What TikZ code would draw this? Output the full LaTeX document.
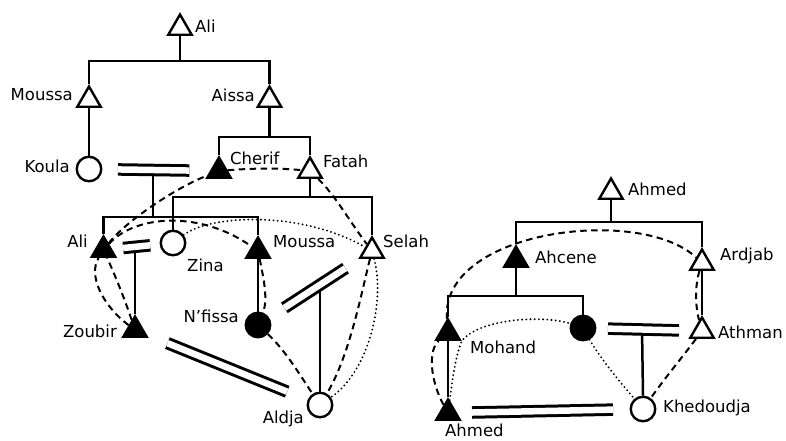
\documentclass[tikz,border=0pt]{standalone}
\usepackage{fontspec}
\setmainfont{DejaVu Sans}
\usetikzlibrary{shapes.geometric}
\tikzset{male/.style={regular polygon,regular polygon sides=3,draw,line width=2.4pt,
                      inner sep=0pt,minimum size=27pt},
         female/.style={circle,draw,line width=2.4pt,inner sep=0pt,minimum size=24.5pt},
         hollow/.style={fill=white},
         filled/.style={fill=black},
         who/.style={inner sep=0pt,font=\fontsize{16.5}{19}\selectfont},
         kin/.style={draw,line width=2.5pt},
         couple/.style={draw,double,line width=3pt,double distance=6.5pt},
         dashline/.style={draw,line width=2pt,dash pattern=on 6.5pt off 4.5pt},
         dotline/.style={draw,line width=2.1pt,line cap=round,dash pattern=on 0pt off 4.2pt}}

\begin{document}
\begin{tikzpicture}[x=1pt,y=-1pt]
\useasboundingbox (0,0) rectangle (786,441);
% left family
\node [male,hollow] (aliT) at (180,28) {};
\node [male,hollow] (moussaA) at (89,100) {};
\node [male,hollow] (aissa) at (269.5,100) {};
\node [female,hollow] (koula) at (89,169) {};
\node [male,filled] (cherif) at (219,171) {};
\node [male,hollow] (fatah) at (310,171) {};
\node [male,filled] (aliB) at (103.5,250) {};
\node [female,hollow] (zina) at (173,243) {};
\node [male,filled] (moussaB) at (258,251) {};
\node [male,hollow] (selah) at (372,251) {};
\node [female,filled] (nfissa) at (258,325) {};
\node [male,filled] (zoubir) at (135,330) {};
\node [female,hollow] (aldja) at (320,405) {};
\node [who,anchor=base west] (aliTl) at (195,33) {Ali};
\node [who,anchor=base east] (moussaAl) at (73,101) {Moussa};
\node [who,anchor=base east] (aissal) at (255,102) {Aissa};
\node [who,anchor=base east] (koulal) at (70,172) {Koula};
\node [who,anchor=base west] (cherifl) at (230,164) {Cherif};
\node [who,anchor=base west] (fatahl) at (323,167) {Fatah};
\node [who,anchor=base east] (aliBl) at (88,247) {Ali};
\node [who,anchor=base west] (zinal) at (187,271) {Zina};
\node [who,anchor=base west] (moussaBl) at (273,247) {Moussa};
\node [who,anchor=base west] (selahl) at (383,247) {Selah};
\node [who,anchor=base east] (nfissal) at (239,322) {N'fissa};
\node [who,anchor=base east] (zoubirl) at (117,337) {Zoubir};
\node [who,anchor=base east] (aldjal) at (304,423) {Aldja};
\coordinate (sibA) at (180,61);
\coordinate (sibB) at (269.5,137);
\coordinate (sibC) at (310,197);
\coordinate (kc) at (153,168);
\coordinate (sibD) at (153,217);
\coordinate (az) at (135,246);
\coordinate (sn) at (320,286);
\draw [kin] (aliT.south) -- (sibA);
\draw [kin] (moussaA.north) |- (sibA) -| (aissa.north);
\draw [kin] (aissa.south) -- (sibB);
\draw [kin] (cherif.north) |- (sibB) -| (fatah.north);
\draw [kin] (fatah.south) -- (sibC);
\draw [kin] (zina.north) |- (sibC) -| (selah.north);
\draw [kin] (moussaA.south) -- (koula.north);
\draw [kin] (kc) -- (sibD);
\draw [kin] (aliB.north) |- (sibD) -| (moussaB.north);
\draw [kin] (moussaB.south) -- (nfissa.north);
\draw [kin] (az) -- (zoubir.north);
\draw [kin] (sn) -- (aldja.north);
\draw [couple,shorten <=15.5pt,shorten >=20.5pt] (koula) -- (cherif);
\draw [couple,shorten <=11pt,shorten >=9.5pt] (aliB) -- (zina);
\draw [couple,shorten <=18pt,shorten >=17pt] (nfissa) -- (selah);
\draw [couple,shorten <=22pt,shorten >=22pt] (zoubir) -- (aldja);
\draw [dashline] (zoubir) .. controls (102,305) and (88,275) .. (aliB)
  .. controls (125,222) and (175,188) .. (cherif)
  .. controls (255,168) and (280,168) .. (fatah)
  .. controls (335,195) and (350,222) .. (selah)
  .. controls (362,290) and (350,355) .. (aldja);
\draw [dashline] (zoubir) .. controls (125,300) and (115,275) .. (aliB)
  .. controls (135,215) and (200,210) .. (moussaB)
  .. controls (264,280) and (268,300) .. (nfissa)
  .. controls (285,350) and (300,375) .. (aldja);
\draw [dotline] (zina) .. controls (210,215) and (300,210) .. (selah)
  .. controls (385,300) and (370,370) .. (aldja);
% right family
\node [male,hollow] (ahmedT) at (611,192) {};
\node [male,filled] (ahcene) at (516,260) {};
\node [male,hollow] (ardjab) at (702,263) {};
\node [male,filled] (mohand) at (448,333) {};
\node [female,filled] (sister) at (583,328) {};
\node [male,hollow] (athman) at (702,331) {};
\node [male,filled] (ahmedB) at (448,413) {};
\node [female,hollow] (khedoudja) at (643,409) {};
\node [who,anchor=base west] (ahmedTl) at (628,195) {Ahmed};
\node [who,anchor=base west] (ahcenel) at (535,263) {Ahcene};
\node [who,anchor=base west] (ardjabl) at (720,260) {Ardjab};
\node [who,anchor=base west] (mohandl) at (470,353) {Mohand};
\node [who,anchor=base west] (athmanl) at (718,338) {Athman};
\node [who,anchor=base west] (khedoudjal) at (663,412) {Khedoudja};
\node [who,anchor=base west] (ahmedBl) at (445,436) {Ahmed};
\coordinate (sibE) at (611,222);
\coordinate (sibF) at (516,296);
\coordinate (sa) at (642,328);
\draw [kin] (ahmedT.south) -- (sibE);
\draw [kin] (ahcene.north) |- (sibE) -| (ardjab.north);
\draw [kin] (ahcene.south) -- (sibF);
\draw [kin] (mohand.north) |- (sibF) -| (sister.north);
\draw [kin] (ardjab.south) -- (athman.north);
\draw [kin] (mohand.south) -- (ahmedB.north);
\draw [kin] (sa) -- (khedoudja.north);
\draw [couple,shorten <=11.5pt,shorten >=14pt] (sister) -- (athman);
\draw [couple,shorten <=15pt,shorten >=16.5pt] (ahmedB) -- (khedoudja);
\draw [dashline] (ahmedB) .. controls (430,380) and (428,350) .. (mohand)
  .. controls (440,230) and (640,205) .. (ardjab)
  .. controls (695,285) and (695,305) .. (athman)
  .. controls (680,360) and (665,378) .. (khedoudja);
\draw [dotline] (ahmedB) .. controls (453,375) and (456,355) .. (mohand.corner 3)
  .. controls (480,318) and (545,315) .. (sister)
  .. controls (600,358) and (620,382) .. (khedoudja);
\end{tikzpicture}
\end{document}
